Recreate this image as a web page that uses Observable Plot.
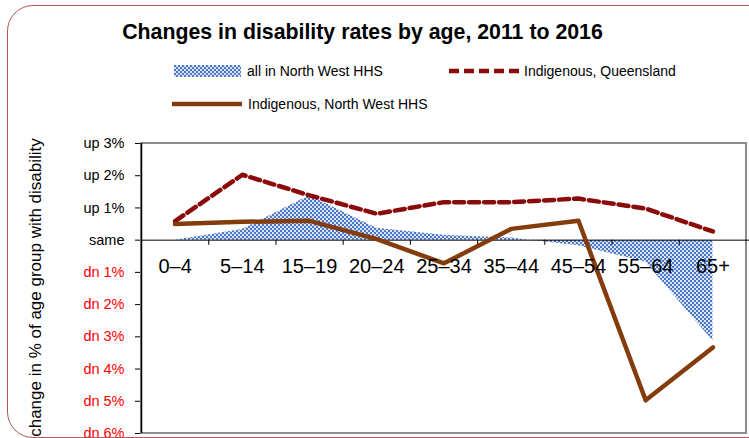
<!DOCTYPE html>
<html>
<head>
<meta charset="utf-8">
<script src="https://cdn.jsdelivr.net/npm/d3@7"></script>
<script src="https://cdn.jsdelivr.net/npm/@observablehq/plot@0.6"></script>
<style>
  body { margin: 0; background: white; }
  #wrap { position: relative; width: 749px; height: 438px; overflow: hidden; background: white;
          font-family: "Liberation Sans", Arial, sans-serif; color: #000; }
  .abs { position: absolute; }
  .leg { position: absolute; font-size: 14px; height: 18px; line-height: 18px; white-space: nowrap; }
  .sw { position: absolute; }
</style>
</head>
<body>
<svg width="0" height="0" style="position:absolute">
  <defs>
    <pattern id="chk" width="4" height="4" patternUnits="userSpaceOnUse">
      <rect width="4" height="4" fill="#d9e3f4"></rect>
      <rect width="2" height="2" fill="#4a78c6"></rect>
      <rect x="2" y="2" width="2" height="2" fill="#4a78c6"></rect>
    </pattern>
  </defs>
</svg>
<div id="wrap">
  <div class="abs" style="left:0;width:725px;top:20px;text-align:center;font-weight:bold;font-size:21.3px;line-height:24px;">Changes in disability rates by age, 2011 to 2016</div>

  <svg class="sw" style="left:174px;top:65px" width="67" height="12"><rect width="67" height="12" fill="url(#chk)"></rect></svg>
  <div class="leg" style="left:247px;top:62px">all in North West HHS</div>

  <svg class="sw" style="left:449px;top:65px" width="70" height="12"><line x1="0" x2="70" y1="6" y2="6" stroke="#8b0a0a" stroke-width="4.5" stroke-dasharray="10,5"></line></svg>
  <div class="leg" style="left:524px;top:62px">Indigenous, Queensland</div>

  <svg class="sw" style="left:172px;top:98px" width="70" height="12"><line x1="1" x2="69" y1="6" y2="6" stroke="#843c0c" stroke-width="4.5" stroke-linecap="round"></line></svg>
  <div class="leg" style="left:248px;top:95px">Indigenous, North West HHS</div>

  <div id="chart" class="abs" style="left:0;top:130px"></div>

  <div class="abs" style="left:7px;top:5px;width:800px;height:431px;border:1.5px solid #b5585b;border-radius:26px;pointer-events:none;"></div>
</div>
<script>
// ---- data ----
const ages = ["0–4", "5–14", "15–19", "20–24", "25–34", "35–44", "45–54", "55–64", "65+"];
const allNorthWest = [0, 0.33, 1.38, 0.37, 0.15, 0.07, -0.17, -0.68, -3.12];
const indigenousQld = [0.59, 2.03, 1.39, 0.82, 1.18, 1.18, 1.29, 0.98, 0.27];
const indigenousNorthWest = [0.5, 0.57, 0.6, 0.03, -0.72, 0.35, 0.6, -4.97, -3.33];
const yTicks = [3, 2, 1, 0, -1, -2, -3, -4, -5, -6];
const yLabel = "change in % of age group with disability";

const rows = ages.map((age, i) => ({
  i, age,
  all: allNorthWest[i],
  qld: indigenousQld[i],
  nw: indigenousNorthWest[i]
}));
const bounds = ages.slice(1).map((_, i) => i + 0.5);

const fmt = d => d > 0 ? `up ${d}%` : d === 0 ? "same" : `dn ${-d}%`;

const chart = Plot.plot({
  width: 749,
  height: 308,
  marginLeft: 141,
  marginRight: 0,
  marginTop: 13,
  marginBottom: 5,
  style: { fontFamily: "'Liberation Sans', Arial, sans-serif", fontSize: "14.5px", color: "black", background: "transparent" },
  x: { domain: [-0.5, ages.length - 0.5], range: [141, 746], axis: null },
  y: { domain: [-6, 3], ticks: yTicks, tickFormat: fmt, tickSize: 6, tickPadding: 11, label: null },
  marks: [
    Plot.rectY([0], { x1: -0.5, x2: ages.length - 0.5, y1: -6, y2: 3, fill: "none", stroke: "#8c8c8c", strokeWidth: 2 }),
    Plot.areaY(rows, { x: "i", y: "all", fill: "url(#chk)" }),
    Plot.ruleY([0], { stroke: "black", strokeWidth: 1 }),
    Plot.ruleX(bounds, { y1: 0, y2: -0.16, stroke: "black", strokeWidth: 1 }),
    Plot.ruleX([-0.5], { y1: -6, y2: 3, stroke: "black", strokeWidth: 1.5 }),
    Plot.line(rows, { x: "i", y: "qld", stroke: "#8b0a0a", strokeWidth: 4.5, strokeDasharray: "10,5" }),
    Plot.line(rows, { x: "i", y: "nw", stroke: "#843c0c", strokeWidth: 4.5 }),
    Plot.text(rows, { x: "i", y: () => 0, text: "age", dy: 26, fontSize: 20,
      fontFamily: "'Liberation Sans Narrow', 'Arial Narrow', 'Liberation Sans', sans-serif", fill: "black" }),
    Plot.text([yLabel], { frameAnchor: "left", textAnchor: "middle", lineAnchor: "middle", rotate: -90, dx: -106, dy: -1, fontSize: 17, fill: "black" })
  ]
});

d3.select(chart).selectAll("text").each(function () {
  const t = d3.select(this);
  if (t.text().startsWith("dn")) t.attr("fill", "#ff0000").style("fill", "#ff0000");
});

document.getElementById("chart").appendChild(chart);
</script>
</body>
</html>
